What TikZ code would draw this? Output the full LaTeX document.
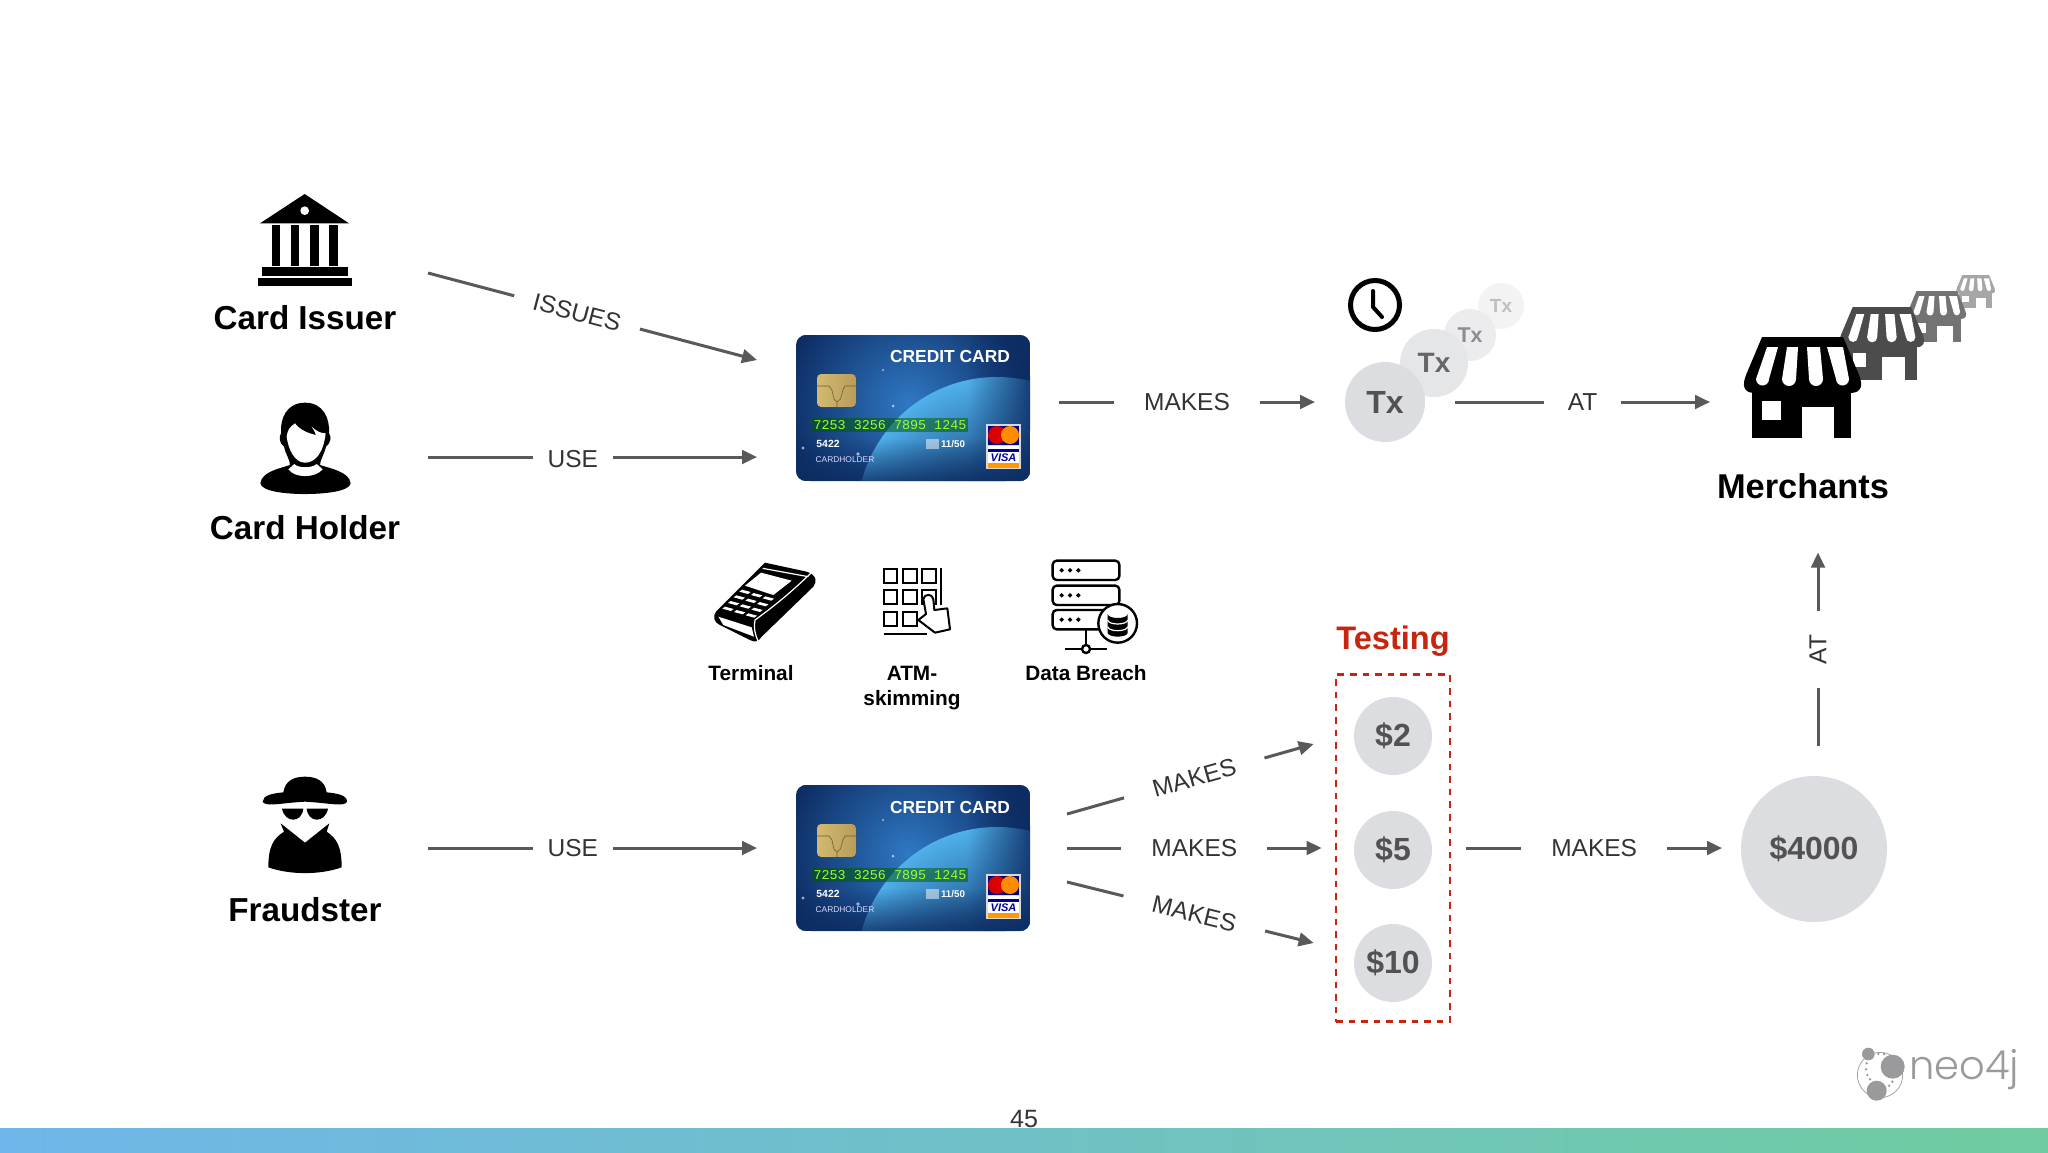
\documentclass[tikz,border=0pt]{standalone}
\usepackage{fontspec}
\usepackage{xcolor}
\setmainfont{Liberation Sans}
\newfontfamily\cardmono{Liberation Mono}
\newfontfamily\neofont[UprightFont=* Light]{Poppins}
\usetikzlibrary{arrows.meta,positioning,calc,fadings}
\definecolor{linegrey}{HTML}{58595B}
\definecolor{bubble}{HTML}{DCDDE0}
\definecolor{testred}{HTML}{C8250F}
\definecolor{logogrey}{HTML}{9A9A9C}
\definecolor{cardnavy}{HTML}{0D2C62}
\definecolor{cardblue}{HTML}{2F78C4}
\definecolor{earthdeep}{HTML}{0B2C64}
\definecolor{earthlimb}{HTML}{4FB0EA}
\definecolor{chipgold}{HTML}{D2BA72}
\definecolor{chipdark}{HTML}{B89C58}
\definecolor{bandleft}{HTML}{6FB6EA}
\definecolor{bandright}{HTML}{70CCA0}
\tikzstyle{arrow} = [line width=1.5pt,linegrey,-{Triangle[length=7.5pt,width=6.8pt]}]
\tikzstyle{rel} = [fill=white,text=black!80,inner ysep=2pt,font=\fontsize{12.25}{14}\selectfont]
\tikzstyle{big} = [inner sep=0pt,font=\bfseries\fontsize{16.6}{19}\selectfont]
\tikzstyle{small} = [inner sep=0pt,align=center,font=\bfseries\fontsize{10.4}{12.5}\selectfont]
\tikzstyle{iconbox} = [inner sep=0pt,outer sep=0pt,minimum height=40pt]
\tikzstyle{cardbox} = [inner sep=0pt,outer ysep=0pt,outer xsep=19.5pt,minimum width=117pt,minimum height=73pt]
\tikzstyle{amount} = [circle,fill=bubble,inner sep=0pt,minimum size=39pt,text=black!68,font=\bfseries\fontsize{16}{18}\selectfont]
\tikzset{
  store/.pic={
    \fill[#1] (19,0) -- (100,0) -- (116,38) .. controls (120,48) and (119,56) .. (107,56) -- (12,56) .. controls (0,56) and (-1,48) .. (3,38) -- cycle;
    \fill[white] (24,10) -- (35,10) -- (26,42) arc[start angle=0,end angle=180,radius=6.5] -- cycle;
    \fill[white] (44,10) -- (55,10) -- (53,42) arc[start angle=0,end angle=180,radius=7] -- cycle;
    \fill[white] (64,10) -- (77,10) -- (80,42) arc[start angle=0,end angle=180,radius=7] -- cycle;
    \fill[white] (84,10) -- (100,10) -- (106,42) arc[start angle=0,end angle=180,radius=6.5] -- cycle;
    \fill[#1] (9,54) rectangle (108,101);
    \fill[white] (19,64) rectangle (38,83);
    \fill[white] (59,70) rectangle (91,101);
  },
  creditcard/.pic={
    \begin{scope}
      \clip[rounded corners=5pt] (-117,-73) rectangle (117,73);
      \fill[cardnavy] (-117,-73) rectangle (117,73);
      \shade[inner color=cardblue,outer color=cardnavy] (-5,-5) circle (125);
      \shade[inner color=earthdeep,outer color=earthlimb] (84,109) circle (140);
      \fill[cardnavy,path fading=west,opacity=.85] (55,-73) rectangle (117,73);
      \fill[cardnavy,path fading=north,opacity=.8] (-117,30) rectangle (117,73);
    \end{scope}
    \fill[white,opacity=.6] (-110,40) circle (1.6) (-30,-38) circle (1.2) (-20,-2) circle (1.5) (-55,46) circle (1.8);
    % chip
    \fill[rounded corners=2pt,left color=chipgold,right color=chipdark] (-96,-34) rectangle (-57,-1);
    \draw[chipdark!60!black,line width=.3pt] (-96,-22) -- (-84,-22) .. controls (-78,-18) and (-82,-8) .. (-76,-6) -- (-76,-1) (-57,-22) -- (-68,-22) .. controls (-72,-18) and (-70,-8) .. (-76,-6);
    % number
    \fill[green!35!black,opacity=.5] (-101,10) rectangle (55,24);
    \node[text=green!45!yellow!85,inner sep=0pt,font=\cardmono\fontsize{6.7}{8}\selectfont] (-number) at (-23,17) {7253 3256 7895 1245};
    \node[text=white,inner sep=0pt,font=\bfseries\fontsize{8.7}{10}\selectfont] (-title) at (37,-51) {CREDIT CARD};
    \node[text=white,inner sep=0pt,font=\bfseries\fontsize{5.2}{6}\selectfont] (-code) at (-85,36) {5422};
    \node[text=white!85!blue,inner sep=0pt,font=\fontsize{4.2}{5}\selectfont] (-holder) at (-68,52) {CARDHOLDER};
    \node[text=white,inner sep=0pt,font=\bfseries\fontsize{4.9}{6}\selectfont] (-expiry) at (40,36) {11/50};
    \fill[white,opacity=.5] (13,31) rectangle (26,41);
    % logos
    \fill[white!85!black] (73,16) rectangle (108,61);
    \fill[blue!50!black] (75,18) rectangle (106,37);
    \fill[red!85!black] (84,27) circle (9);
    \fill[orange!90!yellow] (97,27) circle (9);
    \fill[white] (75,38) rectangle (106,60);
    \fill[blue!60!black] (75,41) rectangle (106,44);
    \fill[orange!80!yellow] (75,55) rectangle (106,60);
    \node[text=blue!60!black,inner sep=0pt,font=\bfseries\itshape\fontsize{5.5}{6}\selectfont] (-visa) at (90.5,49.5) {VISA};
  }
}
\begin{document}
\begin{tikzpicture}[x=0.5pt,y=-0.5pt]
  \useasboundingbox (0,0) rectangle (2048,1152);
  % basics
  \fill[white] (0,0) rectangle (2048,1152);
  \node[inner sep=0pt,text=black!80,font=\fontsize{12.5}{14}\selectfont] (pageno) at (1024,1119) {45};
  \shade[left color=bandleft,right color=bandright] (0,1128) rectangle (2048,1152);
  % people
  \node[iconbox,minimum width=123pt] (issuer) at (305,240) {};
  \node[big] (issuertext) at (305,318) {Card Issuer};
  \node[iconbox,minimum width=123pt] (holder) at (305,449) {};
  \node[big] (holdertext) at (305,528) {Card Holder};
  \node[iconbox,minimum width=123pt] (fraudster) at (305,825) {};
  \node[big] (fraudstertext) at (305,910) {Fraudster};
  \begin{scope}[shift={(180,170)},x=0.16667pt,y=-0.16667pt]
    % bank
    \fill (374,72) -- (507,160) -- (240,160) -- cycle;
    \fill[white] (374,122) circle (13);
    \foreach \c in {275,332,390,448}
      \fill (\c,165) rectangle (\c+26,287);
    \fill (246,292) rectangle (503,318);
    \fill (233,323) rectangle (516,349);
    % person
    \fill (375,698) .. controls (320,698) and (300,745) .. (303,790) .. controls (296,800) and (298,820) .. (312,830) .. controls (318,855) and (330,870) .. (330,885) .. controls (300,895) and (245,905) .. (241,940) .. controls (245,965) and (320,972) .. (375,972) .. controls (430,972) and (508,965) .. (512,940) .. controls (508,905) and (450,895) .. (420,885) .. controls (420,870) and (432,855) .. (438,830) .. controls (452,820) and (455,800) .. (447,790) .. controls (450,745) and (430,698) .. (375,698) -- cycle;
    \fill[white] (345,760) .. controls (360,780) and (385,790) .. (408,795) .. controls (405,785) and (400,778) .. (395,770) .. controls (410,785) and (425,790) .. (437,790) .. controls (430,850) and (405,878) .. (375,878) .. controls (345,878) and (325,840) .. (320,800) .. controls (322,780) and (330,770) .. (345,760) -- cycle;
    \fill[white] (343,882) .. controls (355,895) and (395,895) .. (410,882) -- (428,898) .. controls (405,925) and (345,925) .. (325,898) -- cycle;
  \end{scope}
  \begin{scope}[shift={(220,760)},x=0.16667pt,y=-0.16667pt]
    % hat and coat
    \fill (190,97) .. controls (195,60) and (225,50) .. (255,50) .. controls (285,50) and (315,60) .. (320,97) .. controls (350,100) and (382,105) .. (381,125) .. controls (375,142) and (320,128) .. (255,125) .. controls (190,128) and (135,142) .. (128,125) .. controls (128,105) and (160,100) .. (190,97) -- cycle;
    \fill (186,146) -- (250,146) .. controls (245,190) and (195,190) .. (186,146) -- cycle;
    \fill (260,146) -- (324,146) .. controls (315,190) and (265,190) .. (260,146) -- cycle;
    \fill (182,190) -- (255,248) -- (328,190) -- (320,215) .. controls (350,235) and (365,260) .. (365,322) .. controls (300,345) and (210,345) .. (145,322) .. controls (145,260) and (160,235) .. (192,215) -- cycle;
  \end{scope}
  % cards
  \node[cardbox] (card1) at (913,408) {};
  \pic (cardA) at (card1) {creditcard};
  \node[cardbox] (card2) at (913,858) {};
  \pic (cardB) at (card2) {creditcard};
  % attack vectors
  \begin{scope}[shift={(690,540)},x=0.16667pt,y=-0.16667pt]
    \fill (225,68) -- (350,95) .. controls (380,105) and (382,125) .. (370,140) -- (215,290) .. controls (205,305) and (195,308) .. (180,300) -- (90,255) .. controls (70,245) and (68,230) .. (78,215) -- cycle;
    \draw[white,line width=.6pt] (362,100) .. controls (300,160) and (250,200) .. (195,240) .. controls (190,260) and (195,285) .. (205,305);
    \fill[white] (213,98) -- (305,122) -- (250,165) -- (165,137) -- cycle;
    \draw[white,line width=.6pt] (218,85) -- (355,110);
    \foreach \i in {0,1,2,3}
      \foreach \j in {0,1,2}
        \fill[white] (170-17*\i+35*\j,155+17*\i+10*\j) ++(-14,-6) -- ++(26,7) -- ++(-8,6) -- ++(-26,-7) -- cycle;
    \fill[white] (85,230) -- (185,262) -- (192,290) -- (100,255) -- cycle;
    % keypad
    \foreach \c/\r in {582/87,640/87,697/87,582/150,640/150,697/150,582/215,640/215}
      \draw[line width=1pt] (\c,\r) rectangle (\c+40,\r+42);
    \draw[line width=1pt] (752,85) -- (752,195);
    \draw[line width=1pt] (582,282) -- (712,282);
    \draw[line width=1pt,fill=white,line join=round] (700,178) .. controls (702,160) and (728,160) .. (730,178) -- (733,210) -- (772,205) -- (780,268) -- (735,278) -- (685,240) -- (708,222) -- cycle;
    % servers
    \foreach \r in {62,137,210}{
      \draw[line width=1.2pt,rounded corners=2pt] (1088,\r) rectangle (1288,\r+58);
      \foreach \c in {1115,1140,1165}
        \draw[line width=.7pt] (\c,\r+29) circle (4);
    }
    \draw[line width=1.2pt] (1188,268) -- (1188,315);
    \draw[line width=1.2pt] (1125,327) -- (1252,327);
    \draw[line width=1.2pt,fill=white] (1188,327) circle (12);
    \draw[line width=1.2pt,fill=white] (1283,250) circle (58);
    \fill (1253,222) arc[start angle=180,end angle=360,x radius=30,y radius=-12] -- (1313,278) arc[start angle=0,end angle=180,x radius=30,y radius=12] -- cycle;
    \draw[white,line width=.6pt] (1253,240) arc[start angle=180,end angle=0,x radius=30,y radius=12];
    \draw[white,line width=.6pt] (1253,260) arc[start angle=180,end angle=0,x radius=30,y radius=12];
  \end{scope}
  \node[small] (terminaltext) at (751,673) {Terminal};
  \node[small] (atmtext) at (912,688) {ATM-\\skimming};
  \node[small] (breachtext) at (1086,673) {Data Breach};
  % transactions
  \node[circle,fill=bubble!35,inner sep=0pt,minimum size=23pt,text=black!25,font=\bfseries\fontsize{9.5}{11}\selectfont] (txfour) at (1501,306) {Tx};
  \node[circle,fill=bubble!55,inner sep=0pt,minimum size=26pt,text=black!45,font=\bfseries\fontsize{10.7}{12}\selectfont] (txthree) at (1470,335) {Tx};
  \node[circle,fill=bubble!75,inner sep=0pt,minimum size=34pt,text=black!60,font=\bfseries\fontsize{14}{16}\selectfont] (txtwo) at (1434,363) {Tx};
  \node[amount,minimum size=40pt,outer sep=15pt] (txone) at (1385,402) {Tx};
  \draw[line width=2.5pt] (1375,305) circle (24.5);
  \draw[line width=2pt,line cap=round,line join=round] (1373,291) -- (1373,307) -- (1382,317);
  % merchants
  \pic[scale=.33] at (1956,275) {store=black!35};
  \pic[scale=.5] at (1907,291) {store=black!55};
  \pic[scale=.72] at (1839,307) {store=black!70};
  \pic at (1743,337) {store=black};
  \node[iconbox,minimum width=93pt] (shop) at (1803,388) {};
  \node[big,font=\bfseries\fontsize{17.2}{19}\selectfont] (merchants) at (1803,486) {Merchants};
  % testing
  \node[inner sep=0pt,text=testred,font=\bfseries\fontsize{16.3}{19}\selectfont] (testtext) at (1393,641) {Testing};
  \node[draw=testred,line width=1.35pt,dash pattern=on 3.3pt off 3pt,inner sep=0pt,minimum width=57pt,minimum height=173.5pt] (testbox) at (1393,848) {};
  \node[amount] (two) at (1393,736) {\$2};
  \node[amount] (five) at (1393,850) {\$5};
  \node[amount] (ten) at (1393,963) {\$10};
  \node[amount,minimum size=73pt,outer sep=15pt] (total) at (1814,849) {\$4000};
  % relations
  \draw[arrow] ([yshift=-16.5pt]issuer.east) -- node[rel,sloped,pos=.453,inner xsep=10pt] (issues) {ISSUES} ([yshift=24pt]card1.west);
  \draw[arrow] ([yshift=-4pt]holder.east) -- node[rel,pos=.44,inner xsep=7.5pt,yshift=-1pt] (useone) {USE} ([yshift=-24.5pt]card1.west);
  \draw[arrow] ([yshift=-11.5pt]fraudster.east) -- node[rel,pos=.44,inner xsep=7.5pt] (usetwo) {USE} ([yshift=5pt]card2.west);
  \draw[arrow] ([xshift=-5pt,yshift=3pt]card1.east) -- node[rel,inner xsep=15pt] (makesone) {MAKES} (txone.west);
  \draw[arrow] (txone.east) -- node[rel,inner xsep=12pt] (atone) {AT} (txone.east -| shop.west);
  \draw[arrow] ([xshift=-1pt,yshift=22pt]card2.east) -- node[rel,sloped,pos=.516,inner xsep=15pt] (makestwo) {MAKES} ([xshift=-10.5pt,yshift=52pt]testbox.west);
  \draw[arrow] ([xshift=-1pt,yshift=5pt]card2.east) -- node[rel,inner xsep=15pt] (makesthree) {MAKES} ([xshift=-6.5pt]testbox.west);
  \draw[arrow] ([xshift=-1pt,yshift=-12pt]card2.east) -- node[rel,sloped,pos=.516,inner xsep=15pt] (makesfour) {MAKES} ([xshift=-10.5pt,yshift=-47.5pt]testbox.west);
  \draw[arrow] ([xshift=7.5pt]testbox.east) -- node[rel,inner xsep=15pt] (makesfive) {MAKES} ([xshift=5.5pt,yshift=.5pt]total.west);
  \draw[arrow] ([xshift=2pt]total.north) -- node[rel,sloped,pos=.5,inner xsep=12pt] (attwo) {AT} ([xshift=7.5pt,yshift=-26.75pt]merchants.south);
  % logo
  \begin{scope}[shift={(1820,1020)},x=0.16667pt,y=-0.16667pt]
    \draw[logogrey,line width=.35pt] (180,165) circle (68);
    \fill[logogrey] (145,102) circle (19) (218,140) circle (36) (170,212) circle (30);
    \foreach \c in {175,192}
      \fill[logogrey] (\c,102) circle (4);
    \foreach \c/\r in {140/130,138/148,142/165,150/178,207/197,217/185}
      \fill[logogrey] (\c,\r) circle (4);
  \end{scope}
  \node[inner sep=0pt,text=logogrey,font=\neofont\fontsize{20}{22}\selectfont] (neo) at (1964,1070) {neo4j};
\end{tikzpicture}
\end{document}
